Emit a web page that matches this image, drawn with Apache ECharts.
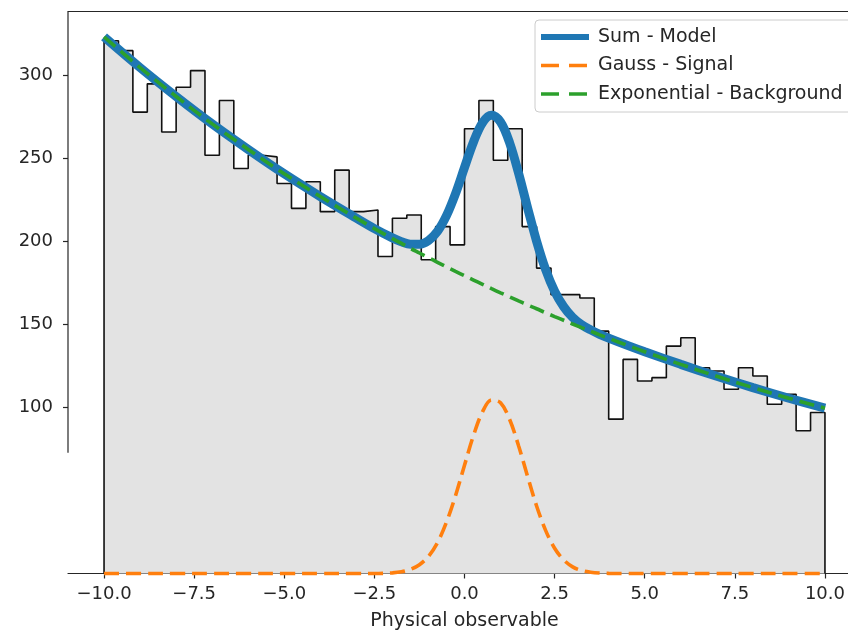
<!DOCTYPE html>
<html>
<head>
<meta charset="utf-8">
<script src="https://cdn.jsdelivr.net/npm/echarts@6/dist/echarts.min.js"></script>
<style>
  html, body { margin: 0; padding: 0; background: #ffffff; }
  #chart { width: 848px; height: 631px; }
</style>
</head>
<body>
<div id="chart"></div>
<script>
// Histogram of the observable: 50 bins of width 0.4 on [-10, 10]
const binStart = -10;
const binWidth = 0.4;
const binCounts = [
  321, 315, 278, 295, 266, 293, 303, 252, 285, 244,
  252, 251, 235, 220, 236, 218, 243, 218, 219, 191,
  214, 216, 189, 209, 198, 268, 285, 249, 268, 209,
  184, 168, 168, 166, 146, 93, 129, 116, 118, 137,
  142, 124, 122, 111, 124, 119, 102, 108, 86, 97
];

// Fitted model curves sampled along the observable
const curveX = [
  -10, -9, -8, -7, -6, -5, -4, -3, -2.5, -2, -1.75, -1.5, -1.25, -1, -0.75, -0.5, -0.25,
  0, 0.25, 0.5, 0.75, 1, 1.25, 1.5, 1.75, 2, 2.25, 2.5, 2.75, 3, 3.25, 3.5, 3.75, 4,
  4.5, 5, 6, 7, 8, 9, 10
];
const sumModel = [
  323.3, 304.8, 287.4, 270.9, 255.5, 240.8, 227.1, 214.1, 207.8, 202.2, 199.9, 198.4, 198.4, 200.6, 206.1, 215.6, 228.8,
  244.6, 260.0, 271.6, 276.1, 272.0, 259.6, 241.2, 220.3, 200.2, 183.1, 170.0, 160.8, 154.3, 149.9, 146.8, 144.1, 141.8,
  137.6, 133.6, 126.0, 118.8, 112.0, 105.6, 99.6
];
const gaussSignal = [
  0, 0, 0, 0, 0, 0, 0, 0, 0, 0.4, 1.0, 2.5, 5.3, 10.3, 18.6, 30.9, 46.8,
  65.2, 83.2, 97.4, 104.5, 102.9, 92.9, 77.0, 58.5, 40.7, 26.0, 15.2, 8.2, 4.0, 1.8, 0.8, 0.3, 0.1,
  0, 0, 0, 0, 0, 0, 0
];
const expBackground = [
  323.3, 304.8, 287.4, 270.9, 255.5, 240.8, 227.1, 214.1, 207.8, 201.8, 198.9, 195.9, 193.1, 190.3, 187.5, 184.7, 182.0,
  179.4, 176.8, 174.2, 171.6, 169.1, 166.7, 164.2, 161.8, 159.5, 157.1, 154.8, 152.6, 150.3, 148.1, 146.0, 143.8, 141.7,
  137.6, 133.6, 126.0, 118.8, 112.0, 105.6, 99.6
];

const xTicks = [-10, -7.5, -5, -2.5, 0, 2.5, 5, 7.5, 10];
const yTicks = [100, 150, 200, 250, 300];
const xRange = [-11, 11];
const yRange = [0, 338.6];
const leftSpineFloor = 72.7;   // the left spine is only drawn above this value

const FONT = 'DejaVu Sans';
const INK = '#262626';

// Step outline of the histogram, closed down to zero at both ends
const histPoints = [[binStart, 0]];
binCounts.forEach((c, i) => histPoints.push([binStart + i * binWidth, c]));
const binEnd = binStart + binCounts.length * binWidth;
histPoints.push([binEnd, binCounts[binCounts.length - 1]]);
histPoints.push([binEnd, 0]);

const pair = (xs, ys) => xs.map((x, i) => [x, ys[i]]);
const fmtX = v => (v < 0 ? '\u2212' : '') + Math.abs(v).toFixed(1);

const chart = echarts.init(document.getElementById('chart'), null, { renderer: 'canvas' });

const legendDash = [18, 10];

chart.setOption({
  animation: false,
  backgroundColor: '#ffffff',
  grid: { left: 68, top: 11.5, width: 793, height: 562, outerBoundsMode: 'none', containLabel: false },
  legend: {
    data: [
      { name: 'Sum - Model', lineStyle: { width: 6, color: '#1f77b4' } },
      { name: 'Gauss - Signal', lineStyle: { width: 3.6, color: '#ff7f0e', type: legendDash } },
      { name: 'Exponential - Background', lineStyle: { width: 3.6, color: '#2ca02c', type: legendDash } }
    ],
    orient: 'vertical',
    left: 535,
    top: 20,
    itemWidth: 48,
    itemHeight: 10,
    itemGap: 8.5,
    padding: [7, 20, 8, 3],
    backgroundColor: 'rgba(255,255,255,0.85)',
    borderColor: '#cccccc',
    borderWidth: 1,
    borderRadius: 4,
    selectedMode: false,
    itemStyle: { opacity: 0 },
    textStyle: { fontFamily: FONT, fontSize: 19, color: INK, lineHeight: 20, padding: [0, 0, 0, 4] }
  },
  xAxis: [
    {
      type: 'value',
      min: xRange[0],
      max: xRange[1],
      position: 'bottom',
      name: 'Physical observable',
      nameLocation: 'middle',
      nameGap: 38,
      nameTextStyle: { fontFamily: FONT, fontSize: 19, color: INK },
      axisLine: { show: true, onZero: false, lineStyle: { color: INK, width: 1.2 } },
      axisTick: { show: true, inside: false, length: 5, customValues: xTicks, lineStyle: { color: INK, width: 1.2 } },
      axisLabel: { show: true, customValues: xTicks, margin: 12, formatter: fmtX, fontFamily: FONT, fontSize: 18, color: INK },
      splitLine: { show: false }
    },
    {
      type: 'value',
      min: xRange[0],
      max: xRange[1],
      position: 'top',
      axisLine: { show: true, onZero: false, lineStyle: { color: INK, width: 1.2 } },
      axisTick: { show: false },
      axisLabel: { show: false },
      splitLine: { show: false }
    }
  ],
  yAxis: {
    type: 'value',
    min: yRange[0],
    max: yRange[1],
    position: 'left',
    axisLine: { show: false, onZero: false },
    axisTick: { show: true, inside: false, length: 5, customValues: yTicks, lineStyle: { color: INK, width: 1.2 } },
    axisLabel: { show: true, customValues: yTicks, margin: 15, formatter: v => String(v), fontFamily: FONT, fontSize: 18, color: INK },
    splitLine: { show: false }
  },
  series: [
    {
      name: 'Data',
      type: 'line',
      step: 'end',
      data: histPoints,
      showSymbol: false,
      symbol: 'none',
      clip: false,
      silent: true,
      lineStyle: { color: '#111111', width: 1.6 },
      areaStyle: { color: '#e3e3e3', opacity: 1, origin: 'start' },
      z: 1
    },
    {
      name: 'Sum - Model',
      type: 'line',
      data: pair(curveX, sumModel),
      smooth: 0.35,
      symbol: 'none',
      color: '#1f77b4',
      lineStyle: { color: '#1f77b4', width: 9, cap: 'butt' },
      z: 3
    },
    {
      name: 'Gauss - Signal',
      type: 'line',
      data: pair(curveX, gaussSignal),
      smooth: 0.35,
      symbol: 'none',
      clip: false,
      color: '#ff7f0e',
      lineStyle: { color: '#ff7f0e', width: 3.6, type: [15, 7], cap: 'butt' },
      z: 4
    },
    {
      name: 'Exponential - Background',
      type: 'line',
      data: pair(curveX, expBackground),
      smooth: 0.35,
      symbol: 'none',
      color: '#2ca02c',
      lineStyle: { color: '#2ca02c', width: 3.6, type: [15, 7], cap: 'butt' },
      z: 5
    }
  ]
});

// Left spine, drawn only over the upper part of the axis
const spineTop = chart.convertToPixel({ gridIndex: 0 }, [xRange[0], yRange[1]]);
const spineBottom = chart.convertToPixel({ gridIndex: 0 }, [xRange[0], leftSpineFloor]);
chart.setOption({
  graphic: [{
    type: 'line',
    shape: { x1: spineTop[0], y1: spineTop[1], x2: spineBottom[0], y2: spineBottom[1] },
    style: { stroke: INK, lineWidth: 1.2 },
    z: 10,
    silent: true
  }]
});
</script>
</body>
</html>
